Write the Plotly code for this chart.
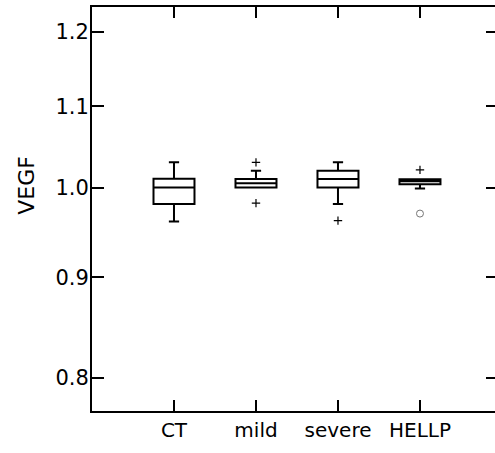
import plotly.graph_objects as go

categories = ["CT", "mild", "severe", "HELLP"]
positions = [1, 2, 3, 4]
q1 = [0.981, 1.000, 1.000, 1.004]
median = [1.000, 1.005, 1.010, 1.0075]
q3 = [1.0105, 1.010, 1.020, 1.0098]
lowerfence = [0.961, 1.000, 0.981, 0.999]
upperfence = [1.030, 1.020, 1.030, 1.0098]

plus_x = [2, 2, 3, 4]
plus_y = [1.030, 0.982, 0.962, 1.021]
circle_x = [4]
circle_y = [0.970]

y_tickvals = [0.8, 0.9, 1.0, 1.1, 1.2]
y_ticktext = ["0.8", "0.9", "1.0", "1.1", "1.2"]
y_title = "VEGF"

XR = [0, 4.915]
YR = [-0.1137, 0.0919]

fig = go.Figure()
for i in range(len(categories)):
    fig.add_trace(go.Box(
        x=[positions[i]], q1=[q1[i]], median=[median[i]], q3=[q3[i]],
        lowerfence=[lowerfence[i]], upperfence=[upperfence[i]],
        width=0.5, whiskerwidth=0.25, boxpoints=False,
        fillcolor="white", line=dict(color="black", width=2),
        showlegend=False,
    ))

fig.add_trace(go.Scatter(
    x=plus_x, y=plus_y, mode="markers",
    marker=dict(symbol="cross-thin", size=6, color="black", line=dict(color="black", width=1.2)),
    showlegend=False,
))
fig.add_trace(go.Scatter(
    x=circle_x, y=circle_y, mode="markers",
    marker=dict(symbol="circle-open", size=7, color="#777", line=dict(color="#777", width=1)),
    showlegend=False,
))
# invisible trace to activate the mirrored tick axes
fig.add_trace(go.Scatter(x=[1], y=[1.0], xaxis="x2", yaxis="y2", mode="markers",
                         marker=dict(opacity=0), showlegend=False, hoverinfo="skip"))

fam = "DejaVu Sans, Arial, sans-serif"
font = dict(family=fam, size=21, color="black")
fig.update_layout(
    width=495, height=453,
    margin=dict(l=92, r=0, t=7, b=42),
    plot_bgcolor="white", paper_bgcolor="white",
    font=font,
    xaxis=dict(
        range=XR, tickvals=positions, ticktext=categories,
        ticks="inside", ticklen=11, tickwidth=1.5, tickcolor="black",
        showline=True, linecolor="black", linewidth=2,
        showgrid=False, zeroline=False, tickfont=dict(family=fam, size=20, color="black"),
    ),
    xaxis2=dict(
        range=XR, tickvals=positions, overlaying="x", side="top", anchor="y",
        ticks="inside", ticklen=11, tickwidth=1.5, tickcolor="black",
        showticklabels=False, showline=True, linecolor="black", linewidth=2,
        showgrid=False, zeroline=False,
    ),
    yaxis=dict(
        type="log", range=YR,
        tickvals=y_tickvals, ticktext=y_ticktext,
        ticks="inside", ticklen=12, tickwidth=1.5, tickcolor="black",
        showline=True, linecolor="black", linewidth=2,
        showgrid=False, zeroline=False, tickfont=font,
        ticklabelstandoff=-3,
    ),
    yaxis2=dict(
        type="log", range=YR, tickvals=y_tickvals,
        overlaying="y", side="right", anchor="x",
        ticks="inside", ticklen=9, tickwidth=1.5, tickcolor="black",
        showticklabels=False, showline=False,
        showgrid=False, zeroline=False,
    ),
    annotations=[dict(
        text=y_title, textangle=-90, xref="paper", yref="y",
        x=-0.161, y=0.001, xanchor="center", yanchor="middle",
        showarrow=False, font=dict(family=fam, size=22, color="black"),
    )],
)
fig.write_html("out.html")
